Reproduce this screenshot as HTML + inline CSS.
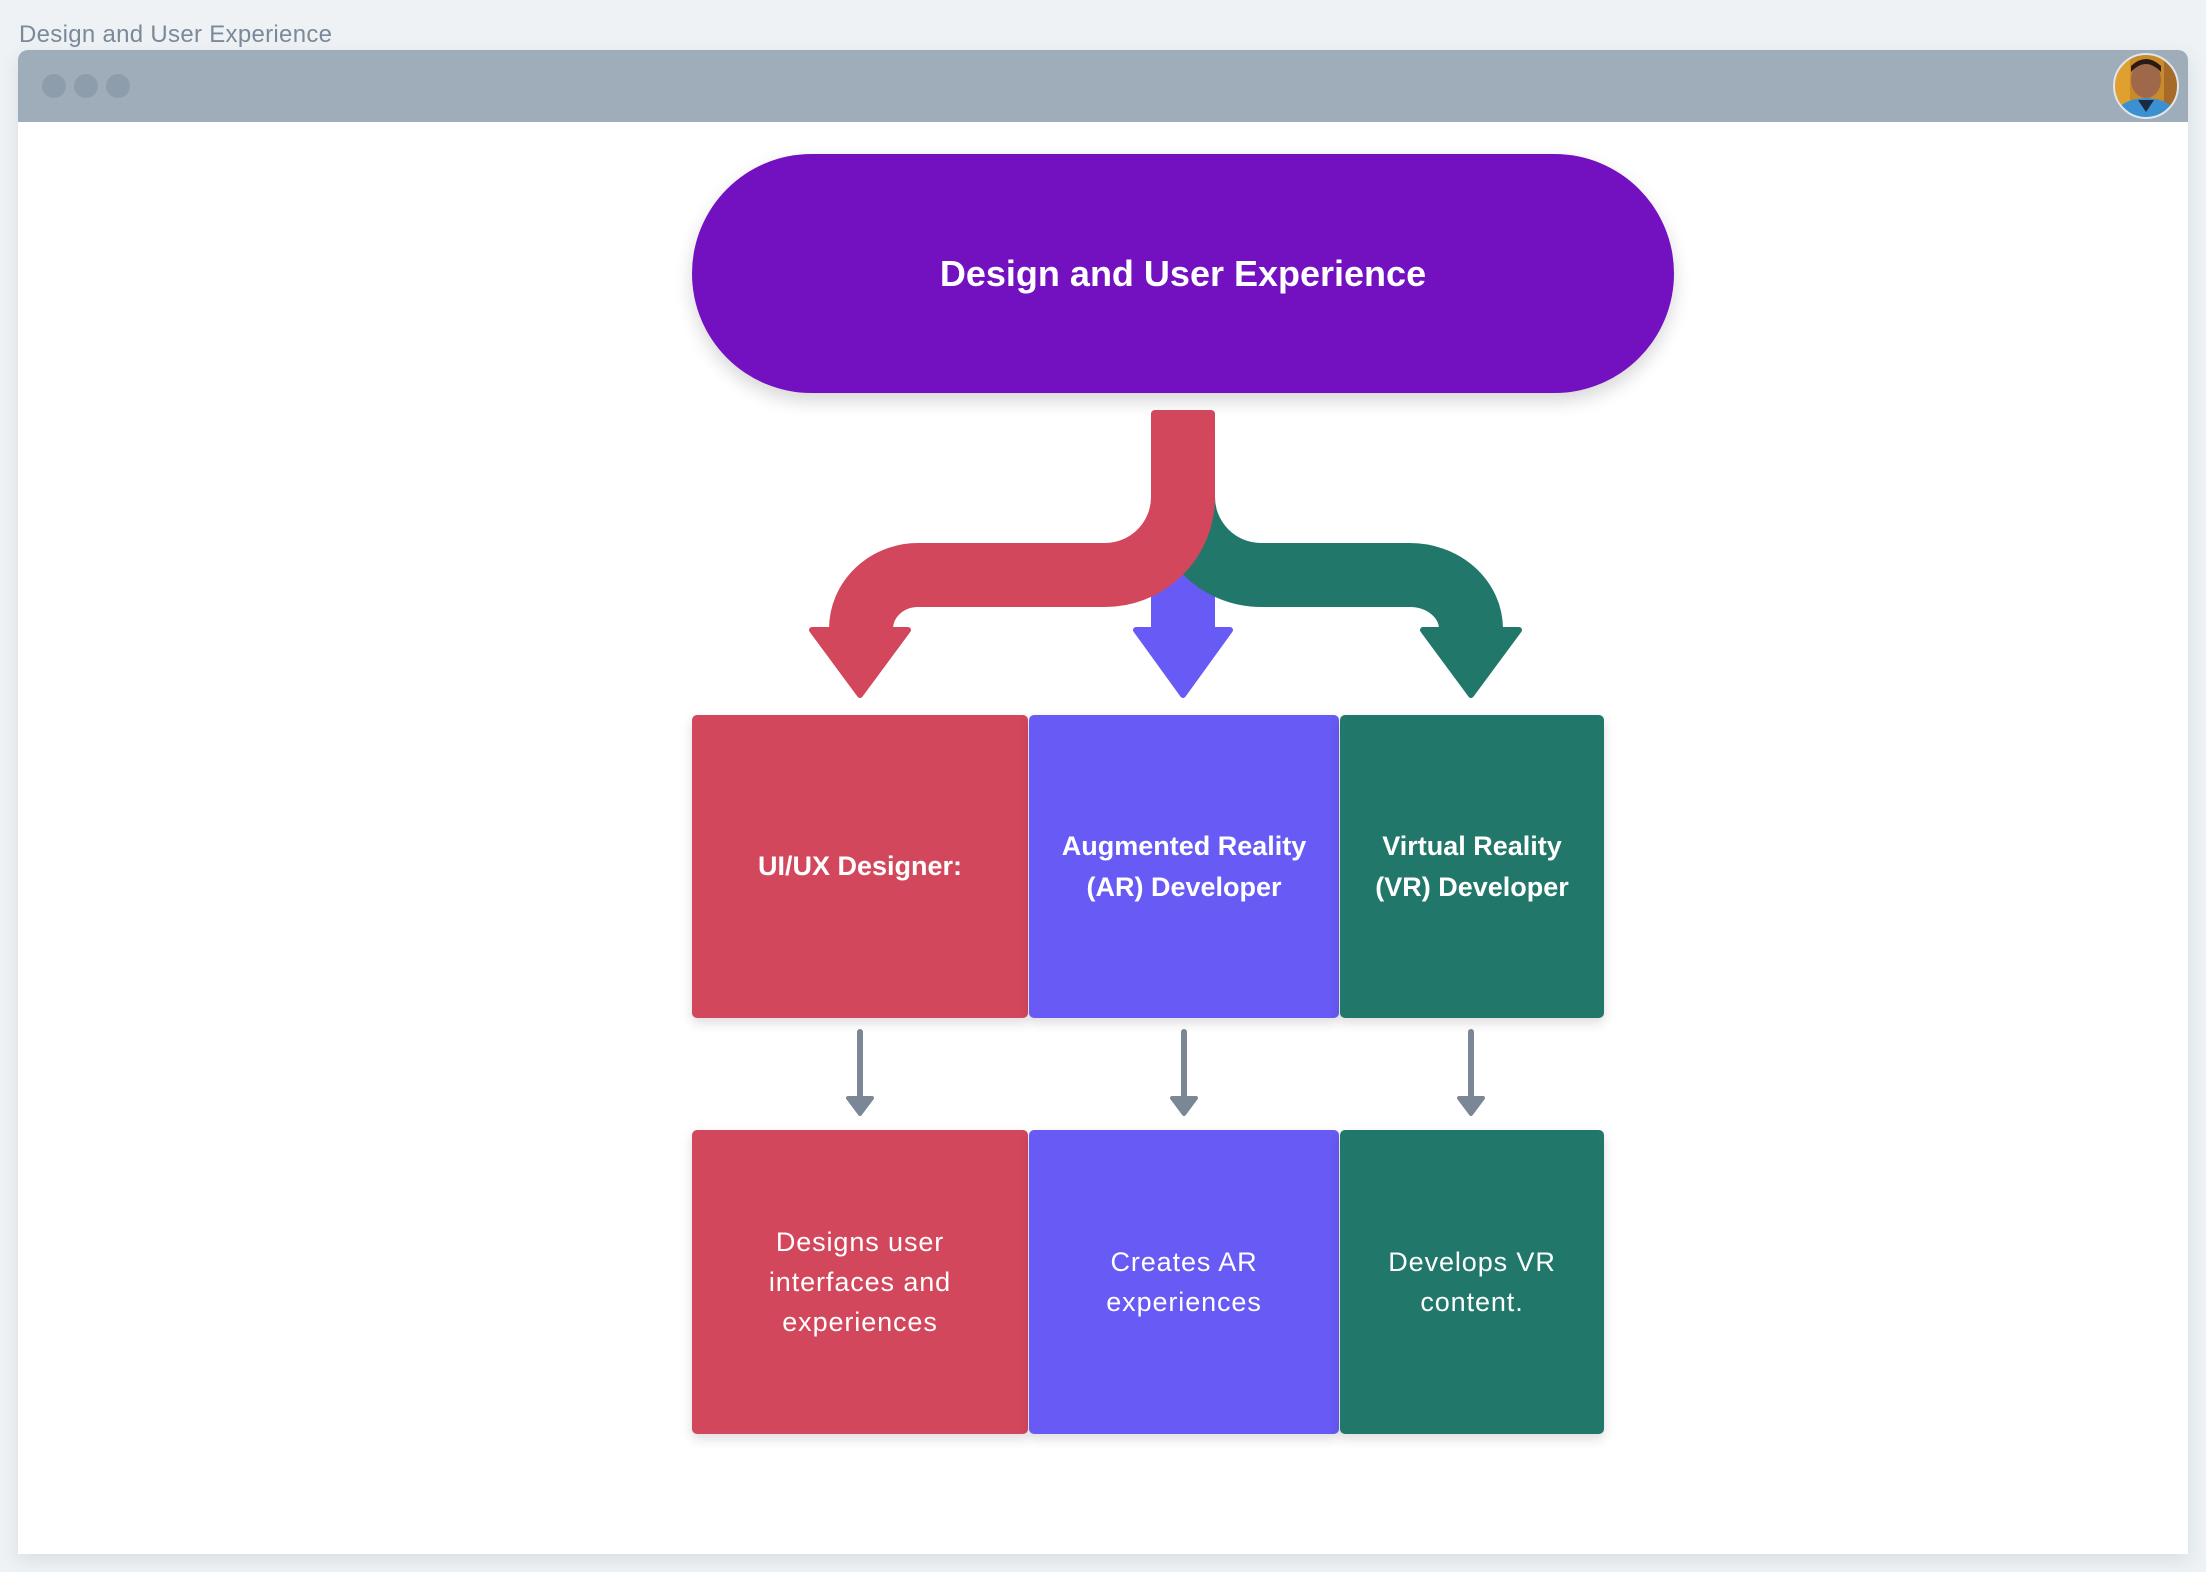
<!DOCTYPE html>
<html>
<head>
<meta charset="utf-8">
<style>
  html,body{margin:0;padding:0;}
  body{width:2206px;height:1572px;background:#eef2f5;position:relative;overflow:hidden;font-family:"Liberation Sans",sans-serif;}
  .hdr{position:absolute;left:19px;top:21px;font-size:24px;letter-spacing:0.3px;color:#7b8a99;line-height:28px;white-space:nowrap;}
  .win{position:absolute;left:18px;top:50px;width:2170px;height:1504px;background:#fff;border-radius:10px 10px 0 0;box-shadow:0 6px 18px rgba(60,80,100,0.12);}
  .bar{position:absolute;left:0;top:0;width:2170px;height:72px;background:#9eadb9;border-radius:10px 10px 0 0;}
  .dot{position:absolute;top:24px;width:24px;height:24px;border-radius:50%;background:#8e9dab;}
  .pill{position:absolute;left:692px;top:154px;width:982px;height:239px;border-radius:120px;background:#7311c1;box-shadow:0 8px 18px rgba(0,0,0,0.16);color:#fff;font-weight:bold;font-size:36px;display:flex;align-items:center;justify-content:center;}
  .box{position:absolute;display:flex;align-items:center;justify-content:center;text-align:center;color:#fff;border-radius:5px;box-shadow:0 5px 12px rgba(0,0,0,0.14);}
  .r1{top:715px;height:303px;font-weight:bold;font-size:27px;line-height:41px;}
  .r2{top:1130px;height:304px;font-size:27px;letter-spacing:0.9px;line-height:40px;}
  .red{background:#d3475c;}
  .blue{background:#685af5;}
  .green{background:#21786a;}
  svg{position:absolute;left:0;top:0;}
</style>
</head>
<body>
<div class="hdr">Design and User Experience</div>
<div class="win">
  <div class="bar">
    <div class="dot" style="left:24px"></div>
    <div class="dot" style="left:56px"></div>
    <div class="dot" style="left:88px"></div>
  </div>
</div>

<svg width="2206" height="1572" viewBox="0 0 2206 1572">
  <defs>
    <clipPath id="avc"><circle cx="2146" cy="86" r="32"/></clipPath>
  </defs>
  <g clip-path="url(#avc)">
    <rect x="2112" y="52" width="70" height="70" fill="#c98a2a"/>
    <rect x="2112" y="52" width="18" height="70" fill="#e0a030"/>
    <rect x="2164" y="52" width="18" height="70" fill="#a86a28"/>
    <ellipse cx="2146" cy="80" rx="15" ry="18" fill="#a0684a"/>
    <path d="M2131 72 Q2146 56 2161 72 L2161 66 Q2146 52 2131 66 Z" fill="#2a1a14"/>
    <ellipse cx="2146" cy="118" rx="32" ry="20" fill="#3a90d0"/>
    <path d="M2138 100 L2146 112 L2154 100 Z" fill="#1a2a40"/>
  </g>
  <circle cx="2146" cy="86" r="32" fill="none" stroke="#dfe6ec" stroke-width="2"/>
</svg>

<div class="pill">Design and User Experience</div>

<svg width="2206" height="1572" viewBox="0 0 2206 1572">
  <!-- blue -->
  <line x1="1183" y1="560" x2="1183" y2="632" stroke="#685af5" stroke-width="64"/>
  <polygon points="1136,630 1230,630 1183,695" fill="#685af5" stroke="#685af5" stroke-width="6" stroke-linejoin="round"/>
  <!-- green -->
  <path d="M1183,440 L1183,497 A78,78 0 0 0 1261,575 L1410,575 A61,54 0 0 1 1471,629 L1471,633" fill="none" stroke="#21786a" stroke-width="64"/>
  <polygon points="1423,630 1519,630 1471,695" fill="#21786a" stroke="#21786a" stroke-width="6" stroke-linejoin="round"/>
  <!-- red -->
  <path d="M1183,413 L1183,497 A78,78 0 0 1 1105,575 L918,575 A57,54 0 0 0 861,629 L861,633" fill="none" stroke="#d3475c" stroke-width="64"/>
  <rect x="1151" y="410" width="64" height="20" rx="4" fill="#d3475c"/>
  <polygon points="812,630 908,630 860,695" fill="#d3475c" stroke="#d3475c" stroke-width="6" stroke-linejoin="round"/>
  <!-- gray connectors -->
  <g stroke="#7b8796" fill="#7b8796">
    <line x1="860" y1="1032" x2="860" y2="1100" stroke-width="6" stroke-linecap="round"/>
    <polygon points="848,1098 872,1098 860,1114" stroke-width="4" stroke-linejoin="round"/>
    <line x1="1184" y1="1032" x2="1184" y2="1100" stroke-width="6" stroke-linecap="round"/>
    <polygon points="1172,1098 1196,1098 1184,1114" stroke-width="4" stroke-linejoin="round"/>
    <line x1="1471" y1="1032" x2="1471" y2="1100" stroke-width="6" stroke-linecap="round"/>
    <polygon points="1459,1098 1483,1098 1471,1114" stroke-width="4" stroke-linejoin="round"/>
  </g>
</svg>

<div class="box r1 red" style="left:692px;width:336px;">UI/UX Designer:</div>
<div class="box r1 blue" style="left:1029px;width:310px;">Augmented Reality<br>(AR) Developer</div>
<div class="box r1 green" style="left:1340px;width:264px;">Virtual Reality<br>(VR) Developer</div>

<div class="box r2 red" style="left:692px;width:336px;">Designs user<br>interfaces and<br>experiences</div>
<div class="box r2 blue" style="left:1029px;width:310px;">Creates AR<br>experiences</div>
<div class="box r2 green" style="left:1340px;width:264px;">Develops VR<br>content.</div>
</body>
</html>
